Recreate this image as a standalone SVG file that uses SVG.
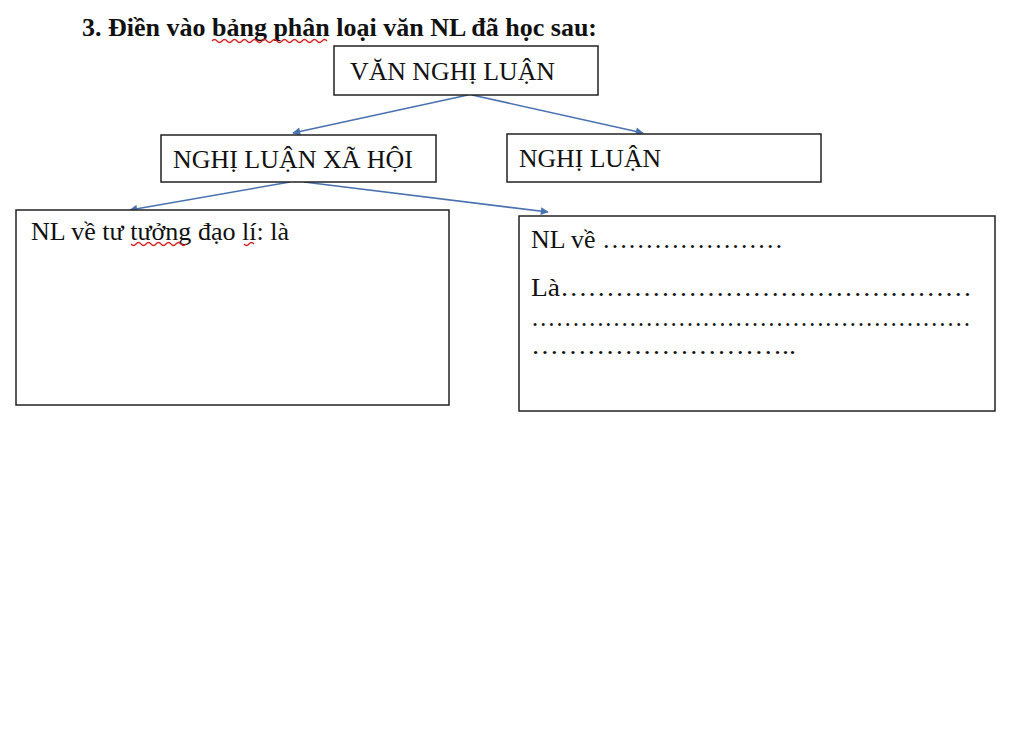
<svg xmlns="http://www.w3.org/2000/svg" width="1024" height="742" viewBox="0 0 1024 742">
<style>
.box{fill:#fff;stroke:#222;stroke-width:1.5}
.t{font-family:"Liberation Serif","Times New Roman",serif;font-size:26px;fill:#111}
.title{font-family:"Liberation Serif","Times New Roman",serif;font-size:25px;font-weight:bold;fill:#111}
.c{stroke:#4a72b0;stroke-width:1.6;fill:none;marker-end:url(#ah)}
.sq{stroke:#d42020;stroke-width:1.3;fill:none}
</style>
<defs>
<marker id="ah" viewBox="0 0 10 10" refX="9" refY="5" markerWidth="10" markerHeight="8" orient="auto" markerUnits="userSpaceOnUse">
<path d="M0,0 L10,5 L0,10 z" fill="#4a72b0"/>
</marker>
</defs>
<rect width="1024" height="742" fill="#fff"/>
<g id="title">
<text class="title" x="82" y="36" textLength="515" lengthAdjust="spacingAndGlyphs">3. Điền vào bảng phân loại văn NL đã học sau:</text>
<path class="sq" d="M212,41 q2.5,-3 5,0 t5,0 t5,0 t5,0 t5,0 t5,0 t5,0 t5,0 t5,0 t5,0 t5,0 t5,0 t5,0 t5,0 t5,0 t5,0 t5,0 t5,0 t5,0 t5,0 t5,0 t5,0 t5,0"/>
</g>
<g id="connectors">
<line class="c" x1="468" y1="95" x2="293" y2="133"/>
<line class="c" x1="472" y1="95" x2="643" y2="133"/>
<line class="c" x1="290" y1="182" x2="130" y2="210"/>
<line class="c" x1="304" y1="182" x2="548" y2="212"/>
</g>
<g id="n1">
<rect class="box" x="334" y="46" width="264" height="49"/>
<text class="t" x="350" y="80" textLength="205" lengthAdjust="spacingAndGlyphs">VĂN NGHỊ LUẬN</text>
</g>
<g id="n2">
<rect class="box" x="161" y="135" width="275" height="47"/>
<text class="t" x="173" y="168" textLength="240" lengthAdjust="spacingAndGlyphs">NGHỊ LUẬN XÃ HỘI</text>
</g>
<g id="n3">
<rect class="box" x="507" y="134" width="314" height="48"/>
<text class="t" x="519" y="167" textLength="142" lengthAdjust="spacingAndGlyphs">NGHỊ LUẬN</text>
</g>
<g id="n4">
<rect class="box" x="16" y="210" width="433" height="195"/>
<text class="t" x="31" y="240" textLength="258" lengthAdjust="spacingAndGlyphs">NL về tư tưởng đạo lí: là</text>
<path class="sq" d="M131,244 q2.5,3 5,0 t5,0 t5,0 t5,0 t5,0 t5,0 t5,0 t5,0 t5,0 t5,0 t5,0"/>
<path class="sq" d="M244,244 q2.5,3 5,0 t5,0"/>
</g>
<g id="n5">
<rect class="box" x="519" y="216" width="476" height="195"/>
<text class="t" x="531" y="248" textLength="252" lengthAdjust="spacingAndGlyphs">NL về …………………</text>
<text class="t" x="531" y="296" textLength="441" lengthAdjust="spacingAndGlyphs">Là………………………………………</text>
<text class="t" x="531" y="326" textLength="440" lengthAdjust="spacingAndGlyphs">………………………………………………</text>
<text class="t" x="531" y="354" textLength="265" lengthAdjust="spacingAndGlyphs">………………………..</text>
</g>
</svg>
